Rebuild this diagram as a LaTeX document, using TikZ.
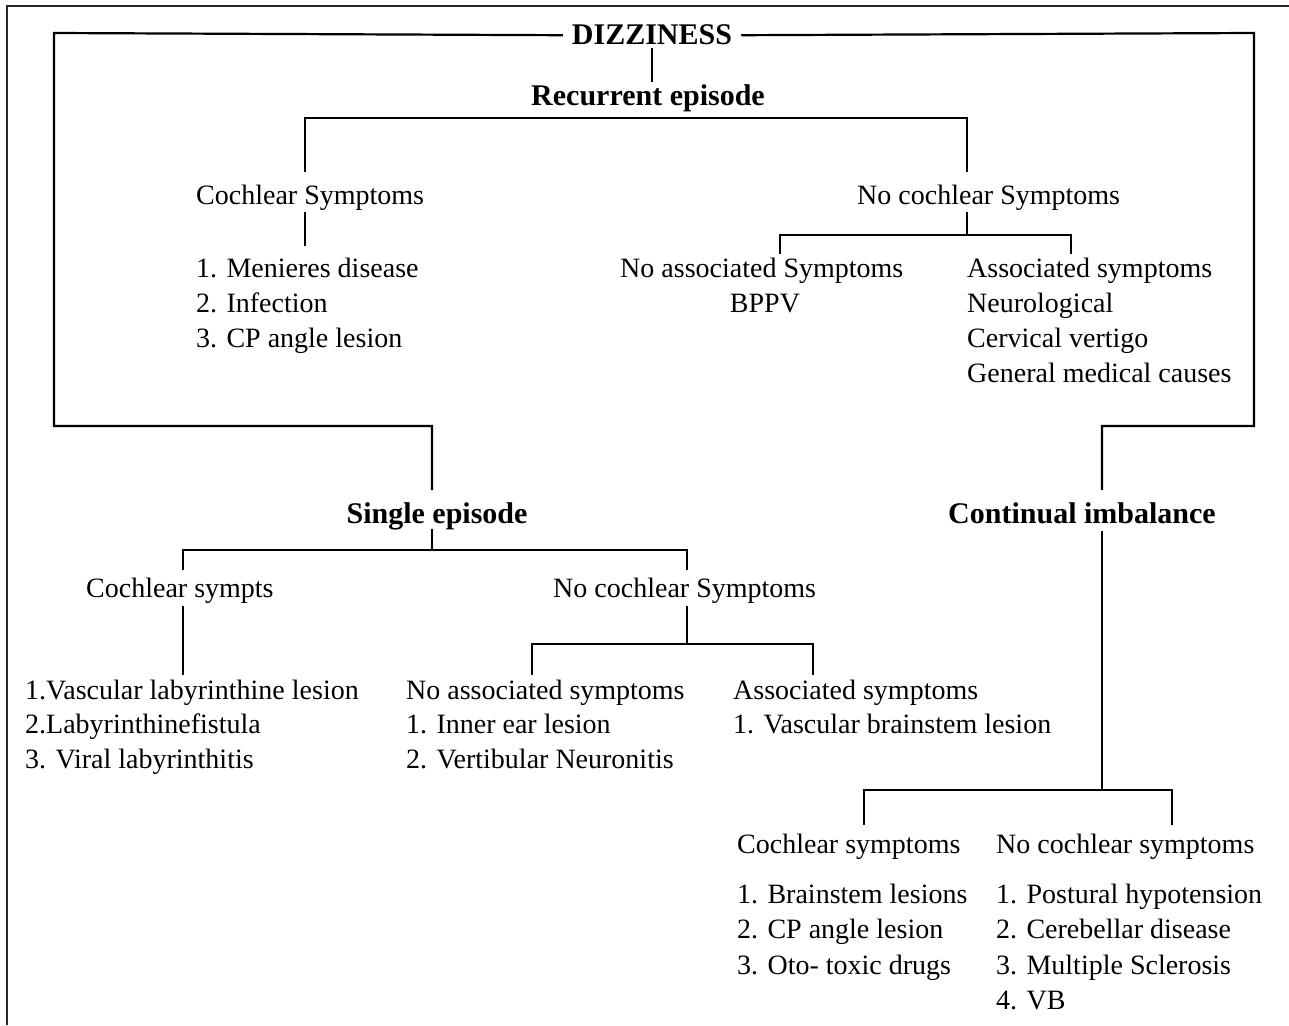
\documentclass[tikz,border=0pt]{standalone}
\usepackage{fontspec}
\setmainfont{Liberation Serif}
\begin{document}
\begin{tikzpicture}[x=1pt,y=-1pt,
  txt/.style={anchor=base west,inner sep=0pt,font=\fontsize{28}{34}\selectfont},
  ctxt/.style={anchor=base,inner sep=0pt,font=\fontsize{28}{34}\selectfont},
  head/.style={anchor=base,inner sep=0pt,font=\fontsize{30}{34}\selectfont\bfseries},
  ln/.style={line width=2.2pt},
  frame/.style={line width=2.6pt,draw=black!85}]
\useasboundingbox (0,0) rectangle (1289,1025);
% outer frame
\coordinate (fbl) at (7,1025);
\coordinate (ftl) at (7,6);
\coordinate (ftr) at (1289,6);
\draw[frame] (fbl) -- (ftl) -- (ftr);

% headings
\node[head,inner xsep=9pt] (dz) at (652,45) {DIZZINESS};
\node[head] (rec) at (648,105) {Recurrent episode};
\node[head] (single) at (437,523) {Single episode};
\node[head] (cont) at (1082,523) {Continual imbalance};

% recurrent branch
\node[txt] (cs1) at (196,204) {Cochlear Symptoms};
\node[txt] (m1) at (196,277) {1. Menieres disease};
\node[txt] (m2) at (196,312) {2. Infection};
\node[txt] (m3) at (196,347) {3. CP angle lesion};
\node[txt] (ncs1) at (857,204) {No cochlear Symptoms};
\node[txt] (nas1) at (620,277) {No associated Symptoms};
\node[ctxt] (bppv) at (765,312) {BPPV};
\node[txt] (as1) at (967,277) {Associated symptoms};
\node[txt] (as1a) at (967,312) {Neurological};
\node[txt] (as1b) at (967,347) {Cervical vertigo};
\node[txt] (as1c) at (967,382) {General medical causes};

% single episode branch
\node[txt] (cs2) at (86,597) {Cochlear sympts};
\node[txt] (v1) at (25,699) {1.Vascular labyrinthine lesion};
\node[txt] (v2) at (25,733) {2.Labyrinthinefistula};
\node[txt] (v3) at (25,768) {3. Viral labyrinthitis};
\node[txt] (ncs2) at (553,597) {No cochlear Symptoms};
\node[txt] (nas2) at (406,699) {No associated symptoms};
\node[txt] (nas2a) at (406,733) {1. Inner ear lesion};
\node[txt] (nas2b) at (406,768) {2. Vertibular Neuronitis};
\node[txt] (as2) at (733,699) {Associated symptoms};
\node[txt] (as2a) at (733,733) {1. Vascular brainstem lesion};

% continual imbalance branch
\node[txt] (cs3) at (737,853) {Cochlear symptoms};
\node[txt] (cs3a) at (737,903) {1. Brainstem lesions};
\node[txt] (cs3b) at (737,938) {2. CP angle lesion};
\node[txt] (cs3c) at (737,974) {3. Oto- toxic drugs};
\node[txt] (ncs3) at (996,853) {No cochlear symptoms};
\node[txt] (ncs3a) at (996,903) {1. Postural hypotension};
\node[txt] (ncs3b) at (996,938) {2. Cerebellar disease};
\node[txt] (ncs3c) at (996,974) {3. Multiple Sclerosis};
\node[txt] (ncs3d) at (996,1009) {4. VB};

% coordinates for connectors
\coordinate (ltop) at (54,33);
\coordinate (lbot) at (54,426);
\coordinate (rtop) at (1254,33);
\coordinate (rbot) at (1254,426);
\coordinate (sj) at (432,426);
\coordinate (send) at (432,490);
\coordinate (cj) at (1102,426);
\coordinate (cend) at (1102,490);

% main bracket
\draw[ln] (dz.west) -- (ltop) -- (lbot) -- (sj) -- (send);
\draw[ln] (dz.east) -- (rtop) -- (rbot) -- (cj) -- (cend);
\draw[ln] (652,48) coordinate (dzb) -- (652,82) coordinate (rect);

% recurrent
\coordinate (rl) at (305,118);
\coordinate (rr) at (967,118);
\draw[ln] (305,172) coordinate (cs1t) -- (rl) -- (rr) -- (967,172) coordinate (ncs1t);
\draw[ln] (305,212) coordinate (cs1b) -- (305,246) coordinate (m1t);
\coordinate (ncs1b) at (967,212);
\coordinate (nj) at (967,235);
\draw[ln] (ncs1b) -- (nj);
\draw[ln] (780,254) coordinate (nas1t) -- (780,235) -- (1071,235) -- (1071,254) coordinate (as1t);

% single episode
\draw[ln] (432,529) coordinate (singleb) -- (432,550) coordinate (sjn);
\draw[ln] (183,570) coordinate (cs2t) -- (183,550) -- (687,550) -- (687,570) coordinate (ncs2t);
\draw[ln] (183,606) coordinate (cs2b) -- (183,675) coordinate (v1t);
\draw[ln] (687,606) coordinate (ncs2b) -- (687,644) coordinate (nj2);
\draw[ln] (532,675) coordinate (nas2t) -- (532,644) -- (813,644) -- (813,675) coordinate (as2t);

% continual
\draw[ln] (1102,531) coordinate (contb) -- (1102,790) coordinate (cj2);
\draw[ln] (864,825) coordinate (cs3t) -- (864,790) -- (1172,790) -- (1172,825) coordinate (ncs3t);
\end{tikzpicture}
\end{document}
